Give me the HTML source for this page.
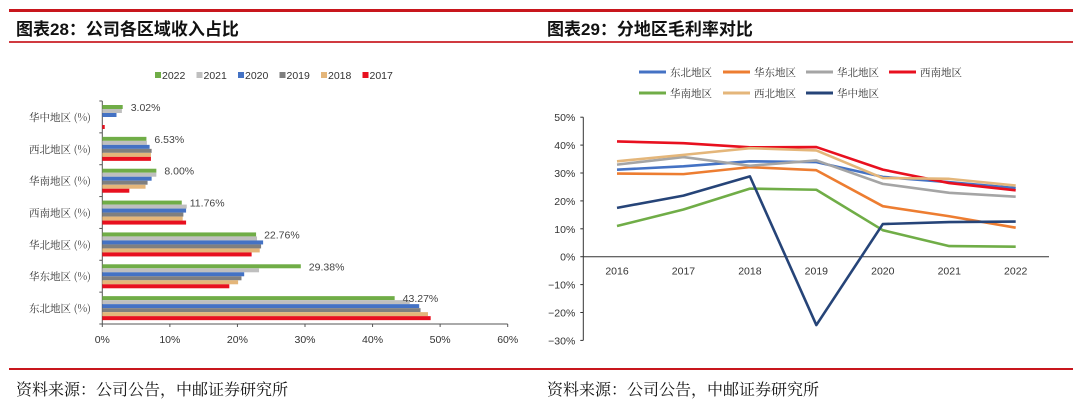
<!DOCTYPE html>
<html><head><meta charset="utf-8">
<style>
body{margin:0;background:#fff;}
#wrap{position:relative;width:1080px;height:412px;overflow:hidden;font-family:"Liberation Sans","Noto Sans CJK SC",sans-serif;}
.t{position:absolute;font-size:17px;font-weight:bold;color:#111;font-family:"Liberation Sans","Noto Sans CJK SC",sans-serif;}
.f{position:absolute;font-size:16px;color:#111;font-family:"Liberation Serif","Noto Serif CJK SC",serif;}
</style></head><body>
<div id="wrap">
<div style="position:absolute;left:9px;top:9px;width:1064px;height:3px;background:#c8161d"></div>
<div style="position:absolute;left:9px;top:41px;width:1064px;height:2px;background:#d03a40"></div>
<div class="t" style="left:16px;top:15px">图表28：公司各区域收入占比</div>
<div class="t" style="left:547px;top:15px">图表29：分地区毛利率对比</div>
<div style="position:absolute;left:9px;top:368px;width:1064px;height:2px;background:#c8161d"></div>
<div class="f" style="left:16px;top:377px">资料来源：公司公告，中邮证券研究所</div>
<div class="f" style="left:547px;top:377px">资料来源：公司公告，中邮证券研究所</div>
<svg id="bar" width="540" height="300" style="position:absolute;left:0;top:60px"></svg>
<svg id="line" width="540" height="300" style="position:absolute;left:540px;top:60px"></svg>
</div>
<script>
// ---- bar chart data ----
const barCategories=["华中地区(%)","西北地区(%)","华南地区(%)","西南地区(%)","华北地区(%)","华东地区(%)","东北地区(%)"];
const barYears=["2022","2021","2020","2019","2018","2017"];
const v2022=[3.02,6.53,8.00,11.76,22.76,29.38,43.27];
const v2021=[2.9,6.6,8.0,12.5,22.9,23.2,45.5];
const v2020=[2.1,7.0,7.3,12.4,23.8,21.0,46.9];
const v2019=[0,7.3,6.7,12.0,23.5,20.6,47.1];
const v2018=[0,7.2,6.4,11.9,23.3,20.1,48.2];
const v2017=[0.36,7.2,4.0,12.4,22.1,18.8,48.6];
const barLabels=["3.02%","6.53%","8.00%","11.76%","22.76%","29.38%","43.27%"];
const barTicks=[0,10,20,30,40,50,60];
// ---- line chart data ----
const lineYears=["2016","2017","2018","2019","2020","2021","2022"];
const lineNames=["东北地区","华东地区","华北地区","西南地区","华南地区","西北地区","华中地区"];
const sDongbei=[31.2,32.4,34.2,33.9,28.6,26.7,24.6];
const sHuadong=[29.8,29.6,32.1,31.0,18.1,14.5,10.4];
const sHuabei=[33.0,35.7,32.6,34.5,26.1,22.9,21.5];
const sXinan=[41.3,40.7,39.2,39.3,31.2,26.4,23.8];
const sHuanan=[11.0,16.9,24.4,24.0,9.5,3.8,3.6];
const sXibei=[34.2,36.5,38.9,38.1,28.2,27.9,25.5];
const sHuazhong=[17.5,21.9,28.8,-24.5,11.7,12.4,12.6];
const lineTicks=[50,40,30,20,10,0,-10,-20,-30];

const NS="http://www.w3.org/2000/svg";
function mk(p,tag,a){const e=document.createElementNS(NS,tag);for(const k in a)e.setAttribute(k,a[k]);p.appendChild(e);return e;}

// bar chart
(function(){
const svg=document.getElementById('bar');
const colors=["#70ad47","#bfbfbf","#4472c4","#7f7f7f","#e4b67a","#e8101f"];
const series=[v2022,v2021,v2020,v2019,v2018,v2017];
const x0=102.3,x1=507.7,yTop=41,yBot=264;
const X=v=>x0+(v/60)*(x1-x0);
const band=(yBot-yTop)/barCategories.length;
// legend
let lx=155;
barYears.forEach((y,i)=>{
 const r=mk(svg,'rect',{x:lx,y:12,width:6,height:6,fill:colors[i]});
 
 const t=mk(svg,'text',{x:lx+7,y:19,'font-size':10.5,fill:'#333'});t.textContent=y;
 
 lx+=41.5;
});
const ya=mk(svg,'line',{x1:x0,y1:yTop,x2:x0,y2:yBot,stroke:'#555','stroke-width':1});

const xa=mk(svg,'line',{x1:x0,y1:yBot,x2:x1,y2:yBot,stroke:'#555','stroke-width':1});

for(let i=0;i<=barCategories.length;i++){mk(svg,'line',{x1:x0-3,y1:yTop+i*band,x2:x0,y2:yTop+i*band,stroke:'#555'});}
barTicks.forEach(v=>{
 mk(svg,'line',{x1:X(v),y1:yBot,x2:X(v),y2:yBot+3,stroke:'#555'});
 const t=mk(svg,'text',{x:X(v),y:yBot+19,'font-size':10.5,fill:'#333','text-anchor':'middle'});t.textContent=v+'%';
 
});
barCategories.forEach((c,ci)=>{
 const by=yTop+ci*band;
 const t=mk(svg,'text',{x:91,y:by+band/2+4,'font-size':10.5,fill:'#333','text-anchor':'end','font-family':'"Noto Serif CJK SC",serif'});t.textContent=c.replace('(%)',' (%)');
 
 series.forEach((s,si)=>{
  const r=mk(svg,'rect',{x:x0,y:by+4+si*4,width:Math.max(0,X(s[ci])-x0),height:4,fill:colors[si]});
  
 });
 const l=mk(svg,'text',{x:X(v2022[ci])+8,y:by+10,'font-size':10.5,fill:'#444'});l.textContent=barLabels[ci];
 
});
})();

// line chart
(function(){
const svg=document.getElementById('line');
const series=[sDongbei,sHuadong,sHuabei,sXinan,sHuanan,sXibei,sHuazhong];
const colors=["#4472c4","#ed7d31","#a5a5a5","#e8101f","#70ad47","#e4b67a","#264478"];
const xa0=43.3,xa1=509;
const X=i=>77+i*(475.7-77)/6;
const Y=v=>196.7-v*2.79;
const lpos=[[99,12],[183,12],[266,12],[349,12],[99,33],[183,33],[266,33]];
lineNames.forEach((n,i)=>{
 const [lx,ly]=lpos[i];
 const l=mk(svg,'line',{x1:lx,y1:ly,x2:lx+27,y2:ly,stroke:colors[i],'stroke-width':3});
 
 const t=mk(svg,'text',{x:lx+31,y:ly+4,'font-size':10.5,fill:'#333','font-family':'"Noto Serif CJK SC",serif'});t.textContent=n;
 
});
const ya=mk(svg,'line',{x1:xa0,y1:Y(50),x2:xa0,y2:Y(-30),stroke:'#333'});

const xa=mk(svg,'line',{x1:xa0,y1:Y(0),x2:xa1,y2:Y(0),stroke:'#333'});

lineTicks.forEach(v=>{
 mk(svg,'line',{x1:xa0-3,y1:Y(v),x2:xa0,y2:Y(v),stroke:'#333'});
 const t=mk(svg,'text',{x:xa0-8,y:Y(v)+4,'font-size':10.5,fill:'#333','text-anchor':'end'});t.textContent=(v<0?'\u2212'+(-v):v)+'%';
 
});
lineYears.forEach((y,i)=>{
 const t=mk(svg,'text',{x:X(i),y:Y(0)+18,'font-size':10.5,fill:'#333','text-anchor':'middle'});t.textContent=y;
 
});
series.forEach((s,si)=>{
 const p=mk(svg,'polyline',{points:s.map((v,i)=>X(i)+','+Y(v)).join(' '),fill:'none',stroke:colors[si],'stroke-width':2.6,'stroke-linejoin':'round'});
 
});
})();
</script>
</body></html>
